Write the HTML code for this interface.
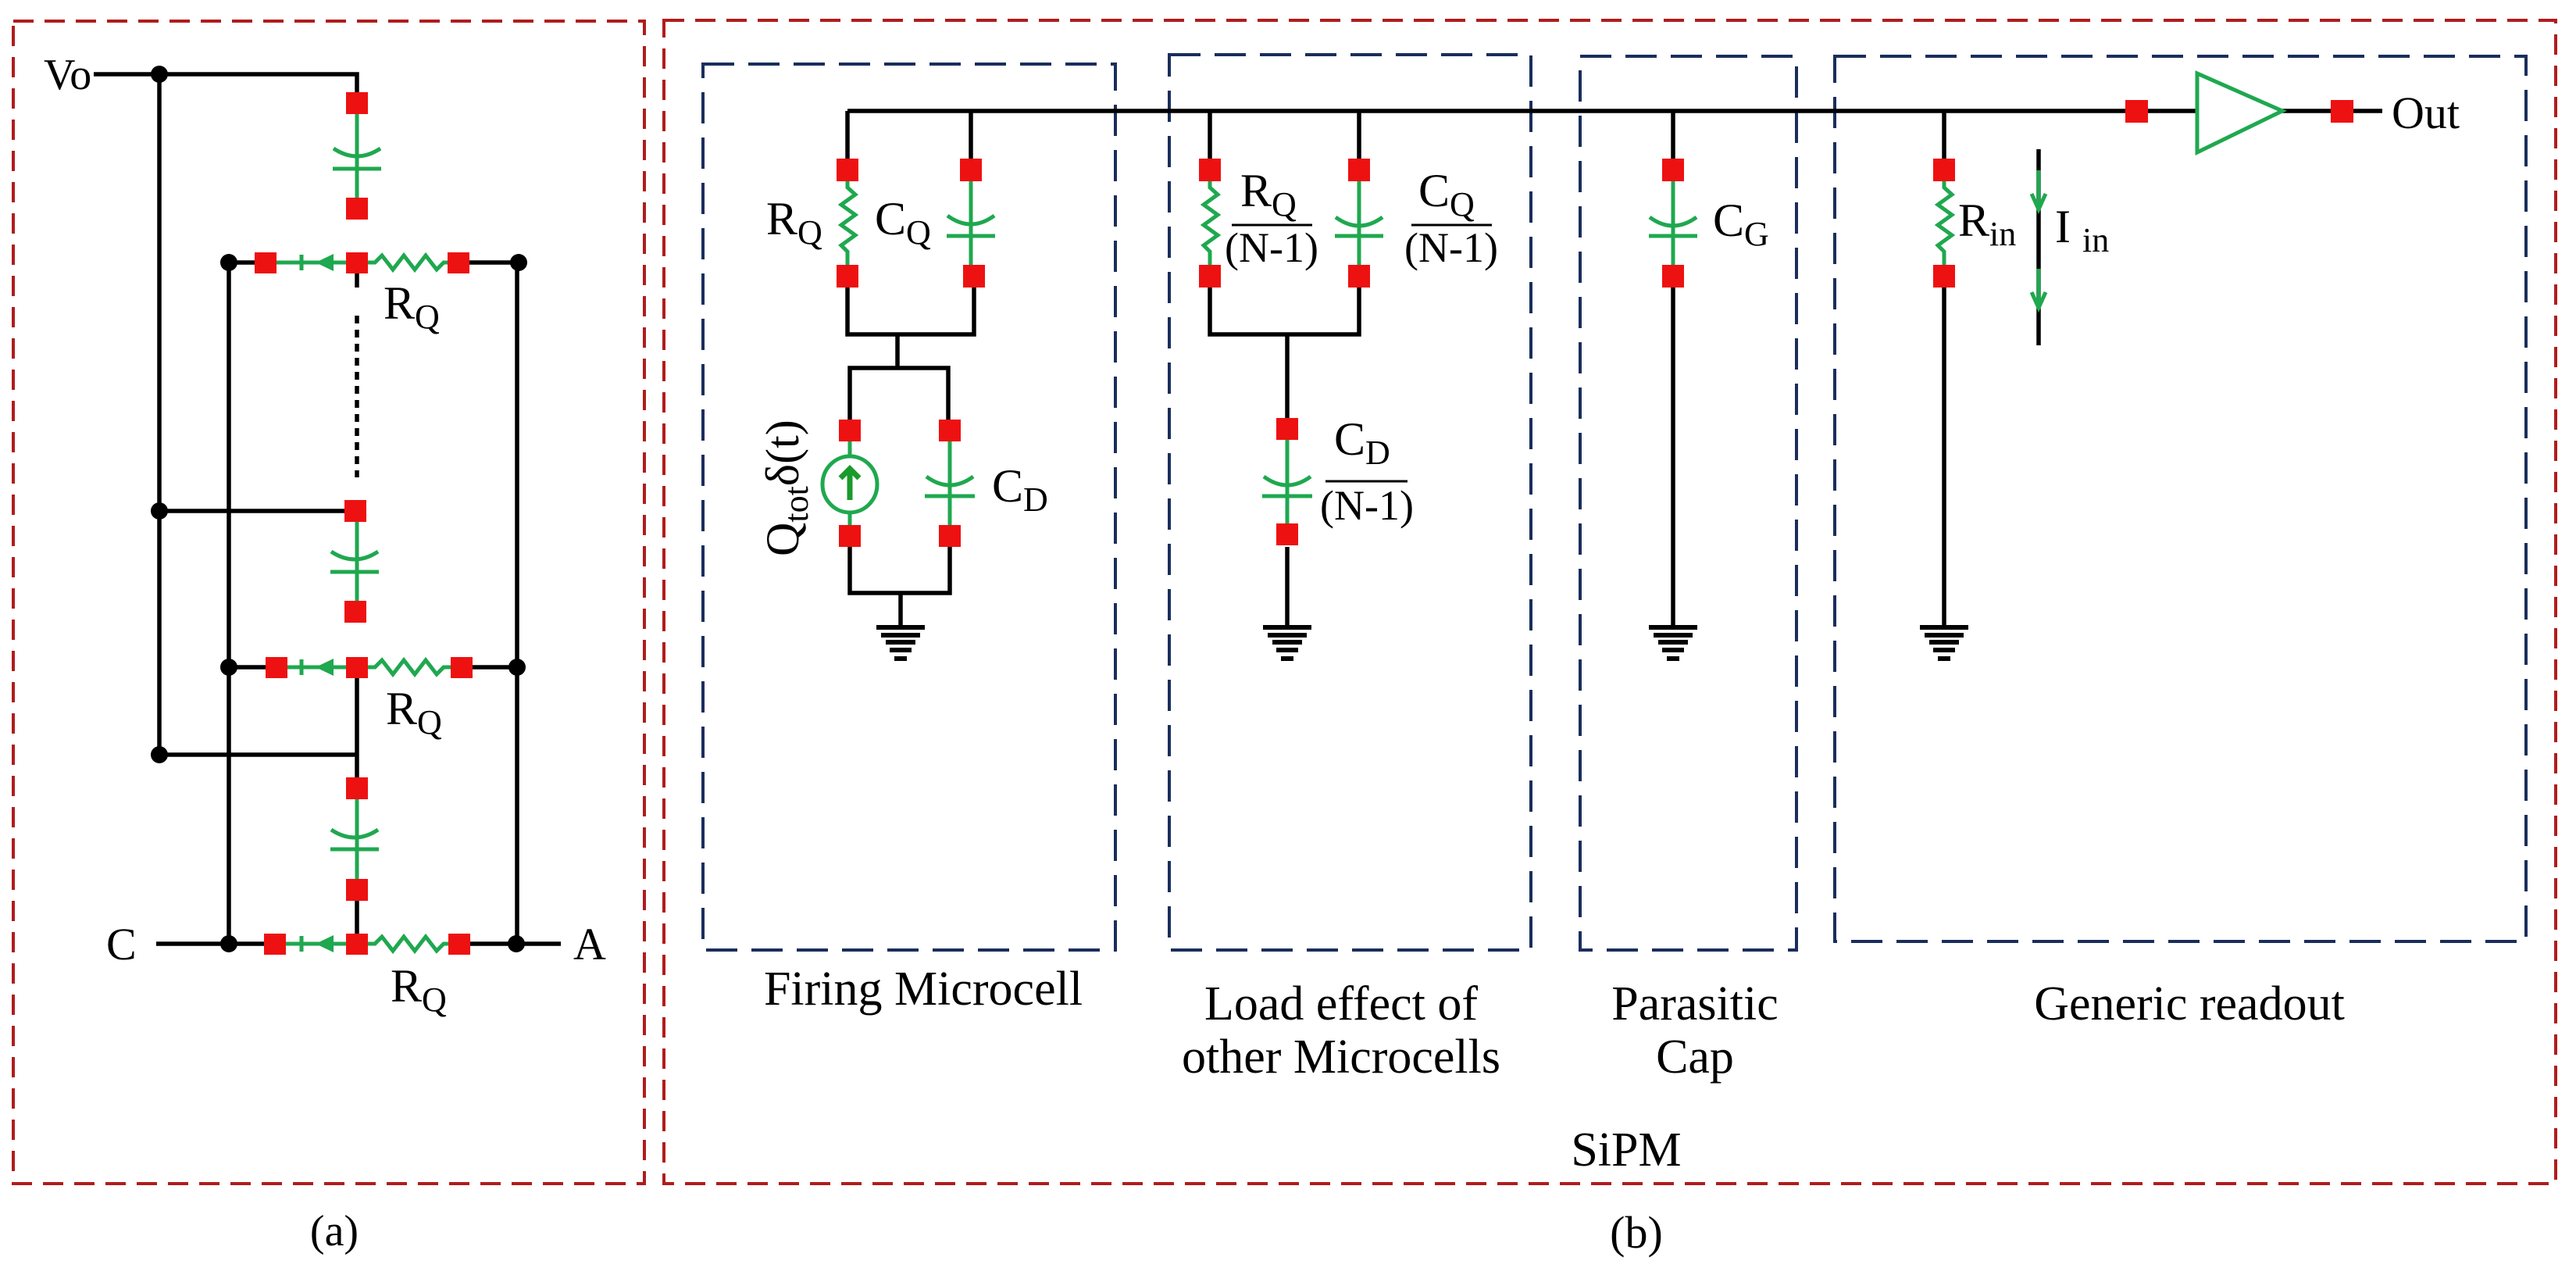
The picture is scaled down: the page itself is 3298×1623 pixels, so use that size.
<!DOCTYPE html>
<html><head><meta charset="utf-8"><style>
html,body{margin:0;padding:0;background:#fff;}
svg{display:block;}
text{font-family:"Liberation Serif",serif;fill:#000;}
</style></head><body>
<svg width="3298" height="1623" viewBox="0 0 3298 1623" xmlns="http://www.w3.org/2000/svg">
<defs>
<g id="gnd"><line x1="-31" y1="0" x2="31" y2="0" stroke="#000" stroke-width="6"/><line x1="-25" y1="10" x2="25" y2="10" stroke="#000" stroke-width="6"/><line x1="-19" y1="19" x2="19" y2="19" stroke="#000" stroke-width="6"/><line x1="-14" y1="29" x2="14" y2="29" stroke="#000" stroke-width="6"/><line x1="-8" y1="40" x2="8" y2="40" stroke="#000" stroke-width="6"/></g>
</defs>
<rect x="17" y="27" width="808" height="1488" fill="none" stroke="#b01c1c" stroke-width="4" stroke-dasharray="26,14"/>
<rect x="850" y="26" width="2422" height="1489" fill="none" stroke="#b01c1c" stroke-width="4" stroke-dasharray="26,14"/>
<rect x="900" y="82" width="528" height="1134" fill="none" stroke="#1a2e5c" stroke-width="4" stroke-dasharray="40,18"/>
<rect x="1497" y="70" width="463" height="1146" fill="none" stroke="#1a2e5c" stroke-width="4" stroke-dasharray="40,18"/>
<rect x="2023" y="72" width="277" height="1144" fill="none" stroke="#1a2e5c" stroke-width="4" stroke-dasharray="40,18"/>
<rect x="2349" y="72" width="885" height="1133" fill="none" stroke="#1a2e5c" stroke-width="4" stroke-dasharray="40,18"/>

<!-- ===== Panel (a) ===== -->
<g stroke="#000" stroke-width="5.5" fill="none">
<polyline points="120,95 457,95 457,120"/>
<line x1="204" y1="95" x2="204" y2="966"/>
<line x1="293" y1="336" x2="293" y2="1208"/>
<line x1="662" y1="336" x2="662" y2="1208"/>
<line x1="293" y1="336" x2="328" y2="336"/>
<line x1="600" y1="336" x2="662" y2="336"/>
<line x1="457" y1="350" x2="457" y2="368"/>
<line x1="457" y1="404" x2="457" y2="611" stroke-dasharray="10,8"/>
<line x1="204" y1="654" x2="457" y2="654"/>
<line x1="293" y1="854" x2="342" y2="854"/>
<line x1="604" y1="854" x2="662" y2="854"/>
<line x1="457" y1="868" x2="457" y2="995"/>
<line x1="204" y1="966" x2="457" y2="966"/>
<line x1="457" y1="1152" x2="457" y2="1195"/>
<line x1="200" y1="1208" x2="340" y2="1208"/>
<line x1="600" y1="1208" x2="718" y2="1208"/>
</g>
<g fill="#000">
<circle cx="204" cy="95" r="11"/><circle cx="204" cy="654" r="11"/><circle cx="204" cy="966" r="11"/>
<circle cx="293" cy="336" r="11"/><circle cx="293" cy="854" r="11"/><circle cx="293" cy="1208" r="11"/>
<circle cx="664" cy="336" r="11"/><circle cx="662" cy="854" r="11"/><circle cx="661" cy="1208" r="11"/>
</g>
<g stroke="#1fa84f" stroke-width="5" fill="none">
<line x1="457" y1="146" x2="457" y2="253"/>
<path d="M427 190 Q457 210 487 190"/><line x1="426" y1="216" x2="488" y2="216"/>
<line x1="457" y1="668" x2="457" y2="769"/>
<path d="M424 706 Q454 726 484 706"/><line x1="423" y1="732" x2="485" y2="732"/>
<line x1="457" y1="1023" x2="457" y2="1125"/>
<path d="M424 1062 Q454 1082 484 1062"/><line x1="423" y1="1087" x2="485" y2="1087"/>
<line x1="354" y1="336" x2="443" y2="336"/><line x1="386" y1="326" x2="386" y2="346"/>
<polyline points="471,336 480,336 489,327 503,345 517,327 531,345 545,327 559,345 568,336 575,336"/>
<line x1="368" y1="854" x2="443" y2="854"/><line x1="386" y1="844" x2="386" y2="864"/>
<polyline points="471,854 480,854 489,845 503,863 517,845 531,863 545,845 559,863 568,854 578,854"/>
<line x1="366" y1="1208" x2="443" y2="1208"/><line x1="386" y1="1198" x2="386" y2="1218"/>
<polyline points="471,1208 480,1208 489,1199 503,1217 517,1199 531,1217 545,1199 559,1217 568,1208 575,1208"/>
</g>
<g fill="#1fa84f">
<polygon points="404,336 427,325 427,347"/>
<polygon points="404,854 427,843 427,865"/>
<polygon points="404,1208 427,1197 427,1219"/>
</g>
<g fill="#ee1111">
<rect x="443" y="118" width="28" height="28"/><rect x="443" y="253" width="28" height="28"/>
<rect x="326" y="323" width="28" height="27"/><rect x="443" y="323" width="28" height="27"/><rect x="573" y="323" width="28" height="27"/>
<rect x="441" y="640" width="28" height="28"/><rect x="441" y="769" width="28" height="28"/>
<rect x="340" y="841" width="28" height="27"/><rect x="443" y="841" width="28" height="27"/><rect x="577" y="841" width="28" height="27"/>
<rect x="443" y="995" width="28" height="28"/><rect x="443" y="1125" width="28" height="28"/>
<rect x="338" y="1195" width="28" height="27"/><rect x="443" y="1195" width="28" height="27"/><rect x="574" y="1195" width="28" height="27"/>
</g>
<text x="56" y="114" font-size="56">Vo</text>
<text x="136" y="1228" font-size="58">C</text>
<text x="734" y="1228" font-size="58">A</text>
<text x="491" y="408" font-size="60">R<tspan font-size="44" dy="12">Q</tspan></text>
<text x="494" y="927" font-size="60">R<tspan font-size="44" dy="12">Q</tspan></text>
<text x="500" y="1282" font-size="60">R<tspan font-size="44" dy="12">Q</tspan></text>
<text x="428" y="1594" font-size="56" text-anchor="middle">(a)</text>

<!-- ===== Panel (b) ===== -->
<g stroke="#000" stroke-width="5.5" fill="none">
<line x1="1085" y1="142" x2="2813" y2="142"/>
<line x1="2922" y1="142" x2="2985" y2="142"/>
<line x1="3012" y1="142" x2="3050" y2="142"/>
<line x1="1085" y1="142" x2="1085" y2="203"/><line x1="1243" y1="142" x2="1243" y2="203"/>
<polyline points="1085,368 1085,428 1247,428 1247,368"/>
<line x1="1149" y1="428" x2="1149" y2="471"/>
<polyline points="1088,537 1088,471 1214,471 1214,537"/>
<polyline points="1088,698 1088,759 1216,759 1216,698"/>
<line x1="1153" y1="759" x2="1153" y2="800"/>
<line x1="1549" y1="142" x2="1549" y2="203"/><line x1="1740" y1="142" x2="1740" y2="203"/>
<polyline points="1549,368 1549,428 1740,428 1740,368"/>
<line x1="1648" y1="428" x2="1648" y2="535"/>
<line x1="1648" y1="700" x2="1648" y2="800"/>
<line x1="2142" y1="142" x2="2142" y2="203"/><line x1="2142" y1="368" x2="2142" y2="800"/>
<line x1="2489" y1="142" x2="2489" y2="203"/><line x1="2489" y1="368" x2="2489" y2="800"/>
<line x1="2610" y1="191" x2="2610" y2="442"/>
</g>
<use href="#gnd" x="1153" y="803"/>
<use href="#gnd" x="1648" y="803"/>
<use href="#gnd" x="2142" y="803"/>
<use href="#gnd" x="2489" y="803"/>
<g stroke="#1fa84f" stroke-width="5" fill="none">
<polyline points="1085,232 1085,240 1095,249 1077,262 1095,275 1077,288 1095,301 1077,314 1085,322 1085,339"/>
<line x1="1243" y1="232" x2="1243" y2="339"/>
<path d="M1213 276 Q1243 298 1273 276"/><line x1="1212" y1="302" x2="1274" y2="302"/>
<line x1="1088" y1="565" x2="1088" y2="584"/><line x1="1088" y1="656" x2="1088" y2="672"/>
<ellipse cx="1088" cy="620" rx="35" ry="36"/>
<line x1="1088" y1="640" x2="1088" y2="602" stroke="#1a9a2a" stroke-width="7"/>
<polyline points="1076,612 1088,600 1100,612" stroke="#1a9a2a" stroke-width="7"/>
<line x1="1216" y1="565" x2="1216" y2="672"/>
<path d="M1186 610 Q1216 632 1246 610"/><line x1="1184" y1="635" x2="1248" y2="635"/>
<polyline points="1549,232 1549,240 1559,249 1541,262 1559,275 1541,288 1559,301 1541,314 1549,322 1549,339"/>
<line x1="1740" y1="232" x2="1740" y2="339"/>
<path d="M1710 278 Q1740 300 1770 278"/><line x1="1709" y1="302" x2="1771" y2="302"/>
<line x1="1648" y1="563" x2="1648" y2="670"/>
<path d="M1618 610 Q1648 632 1678 610"/><line x1="1616" y1="635" x2="1680" y2="635"/>
<line x1="2142" y1="232" x2="2142" y2="339"/>
<path d="M2112 278 Q2142 300 2172 278"/><line x1="2111" y1="302" x2="2173" y2="302"/>
<polyline points="2489,232 2489,240 2499,249 2481,262 2499,275 2481,288 2499,301 2481,314 2489,322 2489,339"/>
<line x1="2610" y1="218" x2="2610" y2="268"/><polyline points="2601,248 2610,268 2619,248"/>
<line x1="2610" y1="344" x2="2610" y2="394"/><polyline points="2601,374 2610,394 2619,374"/>
<polygon points="2813,94 2813,195 2922,142"/>
</g>
<g fill="#ee1111">
<rect x="1071" y="203" width="28" height="29"/><rect x="1071" y="339" width="28" height="29"/>
<rect x="1229" y="203" width="28" height="29"/><rect x="1233" y="339" width="28" height="29"/>
<rect x="1074" y="537" width="28" height="28"/><rect x="1074" y="672" width="28" height="28"/>
<rect x="1202" y="537" width="28" height="28"/><rect x="1202" y="672" width="28" height="28"/>
<rect x="1535" y="203" width="28" height="29"/><rect x="1535" y="339" width="28" height="29"/>
<rect x="1726" y="203" width="28" height="29"/><rect x="1726" y="339" width="28" height="29"/>
<rect x="1634" y="535" width="28" height="28"/><rect x="1634" y="670" width="28" height="28"/>
<rect x="2128" y="203" width="28" height="29"/><rect x="2128" y="339" width="28" height="29"/>
<rect x="2475" y="203" width="28" height="29"/><rect x="2475" y="339" width="28" height="29"/>
<rect x="2721" y="128" width="29" height="29"/><rect x="2984" y="128" width="29" height="29"/>
</g>
<text x="981" y="300" font-size="60">R<tspan font-size="44" dy="12">Q</tspan></text>
<text x="1120" y="300" font-size="60">C<tspan font-size="44" dy="12">Q</tspan></text>
<text x="1270" y="642" font-size="60">C<tspan font-size="44" dy="12">D</tspan></text>
<text transform="translate(1022,712) rotate(-90)" font-size="60">Q<tspan font-size="44" dy="12">tot</tspan><tspan dy="-12">δ(t)</tspan></text>
<text x="1588" y="264" font-size="60">R<tspan font-size="44" dy="12">Q</tspan></text>
<line x1="1577" y1="288" x2="1680" y2="288" stroke="#000" stroke-width="3"/>
<text x="1628" y="335" font-size="54" text-anchor="middle">(N-1)</text>
<text x="1816" y="264" font-size="60">C<tspan font-size="44" dy="12">Q</tspan></text>
<line x1="1807" y1="288" x2="1910" y2="288" stroke="#000" stroke-width="3"/>
<text x="1858" y="335" font-size="54" text-anchor="middle">(N-1)</text>
<text x="1708" y="582" font-size="60">C<tspan font-size="44" dy="12">D</tspan></text>
<line x1="1697" y1="616" x2="1802" y2="616" stroke="#000" stroke-width="3"/>
<text x="1750" y="665" font-size="54" text-anchor="middle">(N-1)</text>
<text x="2193" y="302" font-size="60">C<tspan font-size="44" dy="12">G</tspan></text>
<text x="2507" y="302" font-size="60">R<tspan font-size="44" dy="12">in</tspan></text>
<text x="2631" y="310" font-size="60">I <tspan font-size="44" dy="12">in</tspan></text>
<text x="3062" y="164" font-size="58">Out</text>
<text x="1182" y="1286" font-size="62" text-anchor="middle">Firing  Microcell</text>
<text x="1717" y="1305" font-size="62" text-anchor="middle">Load effect of</text>
<text x="1717" y="1373" font-size="62" text-anchor="middle">other  Microcells</text>
<text x="2170" y="1305" font-size="62" text-anchor="middle">Parasitic</text>
<text x="2170" y="1373" font-size="62" text-anchor="middle">Cap</text>
<text x="2803" y="1305" font-size="62" text-anchor="middle">Generic readout</text>
<text x="2082" y="1492" font-size="62" text-anchor="middle">SiPM</text>
<text x="2095" y="1597" font-size="58" text-anchor="middle">(b)</text>
</svg>
</body></html>
